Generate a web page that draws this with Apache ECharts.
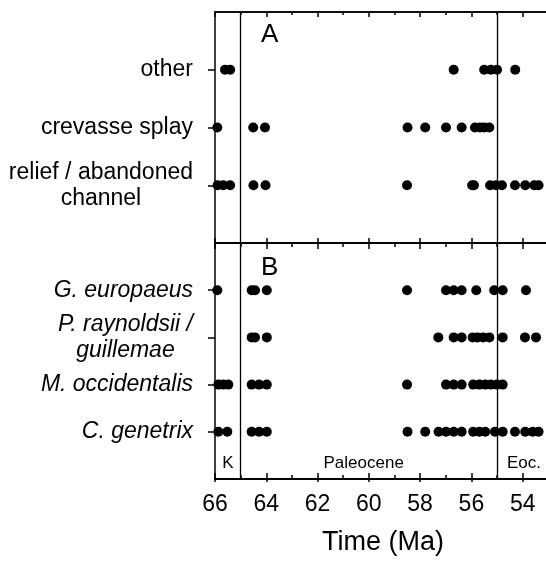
<!DOCTYPE html>
<html>
<head>
<meta charset="utf-8">
<script src="https://cdn.jsdelivr.net/npm/echarts@6/dist/echarts.min.js"></script>
<style>html,body{margin:0;padding:0;background:#fff;}#chart{width:546px;height:565px;}</style>
</head>
<body>
<div id="chart"></div>
<script>
// ---- data (Ma) ----
var facies = ['relief / abandoned\nchannel', 'crevasse splay', 'other'];
var relief = [65.90, 65.68, 65.41, 64.50, 64.03, 58.51, 55.97, 55.90, 55.27, 55.04, 54.81, 54.30, 53.90, 53.55, 53.38];
var crevasse = [65.91, 64.51, 64.05, 58.49, 57.80, 56.99, 56.38, 55.86, 55.66, 55.50, 55.30];
var other = [65.61, 65.41, 56.69, 55.50, 55.24, 55.00, 54.29];

var taxa = ['C. genetrix', 'M. occidentalis', 'P. raynoldsii /\nguillemae', 'G. europaeus'];
var cGenetrix = [65.87, 65.52, 64.57, 64.28, 63.98, 58.49, 57.80, 57.28, 56.99, 56.69, 56.38, 55.93, 55.69, 55.46, 55.08, 54.78, 54.30, 53.90, 53.61, 53.38];
var mOccidentalis = [65.87, 65.68, 65.48, 64.57, 64.28, 63.98, 58.51, 56.99, 56.69, 56.38, 55.93, 55.69, 55.46, 55.24, 55.00, 54.78];
var pRaynoldsii = [64.57, 64.44, 63.98, 57.29, 56.69, 56.38, 55.95, 55.76, 55.54, 55.30, 54.78, 53.91, 53.48];
var gEuropaeus = [65.91, 64.57, 64.44, 63.98, 58.51, 56.99, 56.69, 56.38, 55.81, 55.11, 54.78, 53.87];

var boundaries = [65, 55];
var periodNames = ['K', 'Paleocene', 'Eoc.'];
var periodMid = [65.5, 60.2, 53.95];
var xTicks = [66, 64, 62, 60, 58, 56, 54];
var xMinorTicks = [65, 63, 61, 59, 57, 55];
var X_MIN = 53.09, X_MAX = 66;

var FONT = '"Liberation Sans", Arial, Helvetica, sans-serif';
var chart = echarts.init(document.getElementById('chart'), null, {renderer: 'canvas'});

var gridA = {left: 215, right: 0, top: 12, height: 231};
var gridB = {left: 215, right: 0, top: 243, height: 236};

var TICK_STYLE = {color: '#000', width: 1.5};

function xAx(grid, pos, inside, len, ticks, extra) {
  var base = {
    type: 'value', gridIndex: grid, position: pos, inverse: true,
    min: X_MIN, max: X_MAX,
    axisLine: {show: true, lineStyle: {color: '#000', width: 1.5}},
    axisTick: {show: true, inside: inside, length: len, customValues: ticks, lineStyle: TICK_STYLE},
    axisLabel: {show: false},
    splitLine: {show: false}
  };
  return Object.assign(base, extra || {});
}

function labelFmt(names) {
  return function (v) {
    var n = names[v - 1];
    if (!n) return '';
    return n.split('\n').map(function (s) { return '{c|' + s + '}'; }).join('\n');
  };
}

function yAx(grid, max, names, italic) {
  var vals = names.map(function (_, i) { return i + 1; });
  return {
    type: 'value', gridIndex: grid, min: 0, max: max, interval: 1,
    axisLine: {show: true, lineStyle: {color: '#000', width: 1.5}},
    axisTick: {show: true, length: 7, customValues: vals, lineStyle: TICK_STYLE},
    splitLine: {show: false},
    axisLabel: {
      show: true, margin: 22, customValues: vals,
      formatter: labelFmt(names),
      rich: {c: {align: 'center', fontSize: 23, lineHeight: 26, color: '#000', fontFamily: FONT, fontStyle: italic ? 'italic' : 'normal'}}
    }
  };
}

function dots(xs, row, axisIdx) {
  return {
    type: 'scatter', xAxisIndex: axisIdx, yAxisIndex: axisIdx === 0 ? 0 : 1,
    symbol: 'circle', symbolSize: 10, itemStyle: {color: '#000', opacity: 1},
    silent: true, clip: false,
    data: xs.map(function (x) { return [x, row]; })
  };
}

var boundaryLine = function (axisIdx, yIdx) {
  return {
    type: 'scatter', xAxisIndex: axisIdx, yAxisIndex: yIdx, data: [], silent: true,
    markLine: {
      symbol: ['none', 'none'], silent: true, label: {show: false},
      lineStyle: {color: '#000', width: 1.3, type: 'solid', opacity: 1},
      data: boundaries.map(function (b) { return {xAxis: b}; })
    }
  };
};

var series = [
  dots(relief, 1, 0), dots(crevasse, 2, 0), dots(other, 3, 0),
  dots(cGenetrix, 1, 1), dots(mOccidentalis, 2, 1), dots(pRaynoldsii, 3, 1), dots(gEuropaeus, 4, 1),
  boundaryLine(0, 0), boundaryLine(1, 1),
  {
    type: 'scatter', xAxisIndex: 1, yAxisIndex: 1, symbolSize: 0, silent: true,
    itemStyle: {opacity: 1},
    data: periodNames.map(function (n, i) { return {value: [periodMid[i], 0.34], name: n}; }),
    label: {show: true, position: 'inside', formatter: '{b}', color: '#000', opacity: 1, fontSize: 17, fontFamily: FONT}
  }
];

var option = {
  animation: false,
  backgroundColor: '#fff',
  grid: [gridA, gridB],
  xAxis: [
    xAx(0, 'top', false, 5, xTicks),
    xAx(1, 'bottom', false, 3, xTicks, {
      axisLabel: {show: true, margin: 14, color: '#000', fontSize: 23, fontFamily: FONT, customValues: xTicks}
    }),
    xAx(0, 'top', true, 5, xTicks),
    xAx(0, 'top', true, 3, xMinorTicks),
    xAx(0, 'bottom', true, 2.5, xTicks),
    xAx(1, 'top', true, 6, xTicks),
    xAx(1, 'top', true, 4, xMinorTicks),
    xAx(1, 'bottom', true, 6, xTicks),
    xAx(1, 'bottom', true, 4, xMinorTicks)
  ],
  yAxis: [
    yAx(0, 4, facies, false),
    yAx(1, 5, taxa, true)
  ],
  graphic: [
    {type: 'text', left: 261, top: 22, style: {text: 'A', fontSize: 26, fontFamily: FONT, fill: '#000'}},
    {type: 'text', left: 261, top: 255, style: {text: 'B', fontSize: 26, fontFamily: FONT, fill: '#000'}},
    {type: 'text', x: 383, y: 543, style: {text: 'Time (Ma)', fontSize: 27, fontFamily: FONT, fill: '#000', align: 'center', verticalAlign: 'middle'}}
  ],
  series: series
};
chart.setOption(option);
</script>
</body>
</html>
